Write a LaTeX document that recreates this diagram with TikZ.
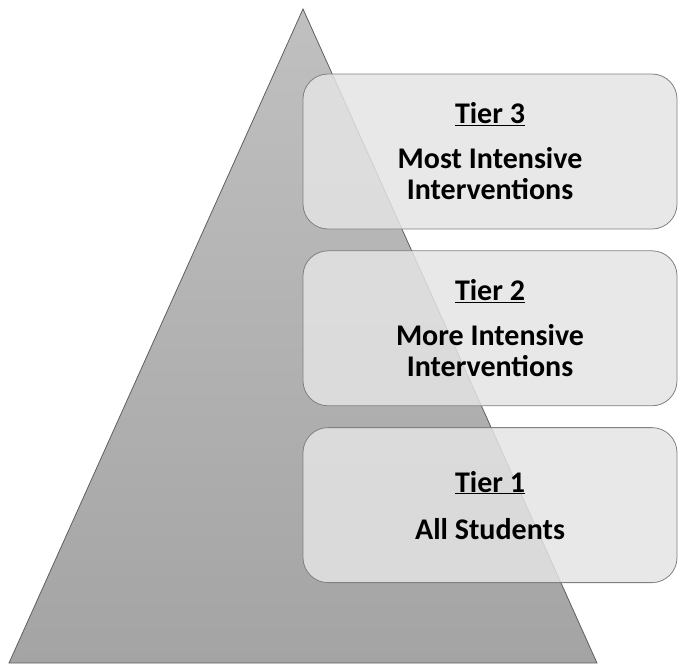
\documentclass[tikz,border=0pt]{standalone}
\usepackage{fontspec}
\setmainfont{Carlito}
\usetikzlibrary{positioning}

\definecolor{pyrtop}{RGB}{192,192,192}
\definecolor{pyrbottom}{RGB}{164,164,164}
\definecolor{pyrline}{RGB}{95,95,95}
\definecolor{boxfill}{RGB}{228,228,228}
\definecolor{boxline}{RGB}{128,128,128}

\tikzset{
  tier/.style={draw=boxline, line width=0.8pt, fill=boxfill, fill opacity=0.84,
    text opacity=1, rounded corners=25pt, minimum width=374pt, minimum height=155pt,
    align=center, font=\fontsize{30}{31}\selectfont\bfseries},
}

\begin{document}
\begin{tikzpicture}[x=1pt,y=-1pt]
    \useasboundingbox (0,0) rectangle (679,664);
    \coordinate (apex) at (303,9);
    \coordinate (baseleft) at (9,663);
    \coordinate (baseright) at (597,663);
    \path[draw=pyrline, line width=0.8pt, top color=pyrtop, bottom color=pyrbottom]
        (apex) -- (baseleft) -- (baseright) -- cycle;
    \node[tier] (tier3) at (490,151.5) {\underline{Tier 3}\\[14pt]Most Intensive\\Interventions};
    \node[tier, below=21pt of tier3] (tier2) {\underline{Tier 2}\\[14pt]More Intensive\\Interventions};
    \node[tier, below=21pt of tier2] (tier1) {\underline{Tier 1}\\[16pt]All Students};
\end{tikzpicture}
\end{document}
